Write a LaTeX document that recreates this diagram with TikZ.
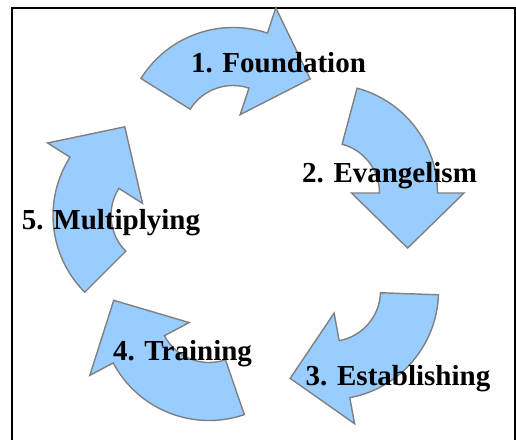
\documentclass[tikz,border=0pt]{standalone}
\usepackage{fontspec}
\setmainfont{Liberation Serif}
\usepackage{tikz}
\usetikzlibrary{calc,positioning}
\definecolor{arrowblue}{HTML}{99CCFF}
\definecolor{arrowedge}{HTML}{808080}
\tikzset{%
	cyclearrow/.style = {draw=arrowedge, fill=arrowblue, line width=1.4pt, line join=miter},
	steplabel/.style  = {anchor=base, inner sep=0pt, font=\fontsize{29}{34}\selectfont\bfseries},
	frameline/.style  = {line width=2pt, black},
}
\begin{document}
\begin{tikzpicture}[x=1pt,y=1pt]
	\useasboundingbox (0,0) rectangle (516,439);
	\draw[frameline] (11.5,-5) |- (514.5,431) -- (514.5,-5);
	
	% centre x / centre y / start angle / end angle of each arrow
	\foreach \cx/\cy/\sa/\ea in {233/303/148/71.5, 329/246/75/0, 330/148/-2/-79.5, 209/127/289/208, 161.5/223.5/225/147.5}
	\draw[cyclearrow] (\cx,\cy) ++(\sa:108.5) arc[start angle=\sa, end angle=\ea, radius=108.5]
		-- ($(\cx,\cy)+(\ea:135)$) -- ($(\cx,\cy)+(\ea-35:96)$) -- ($(\cx,\cy)+(\ea:22.5)$)
		-- ($(\cx,\cy)+(\ea:50.5)$) arc[start angle=\ea, end angle=\sa, radius=50.5] -- cycle;
	
	\node[steplabel] (found) at (278.5,366) {1. Foundation};
	\node[steplabel] (evang) at (389.5,256) {2. Evangelism};
	\node[steplabel] (estab) at (398,54) {3. Establishing};
	\node[steplabel] (train) at (182.5,78.3) {4. Training};
	\node[steplabel] (multi) at (111,209) {5. Multiplying};
\end{tikzpicture}
\end{document}
